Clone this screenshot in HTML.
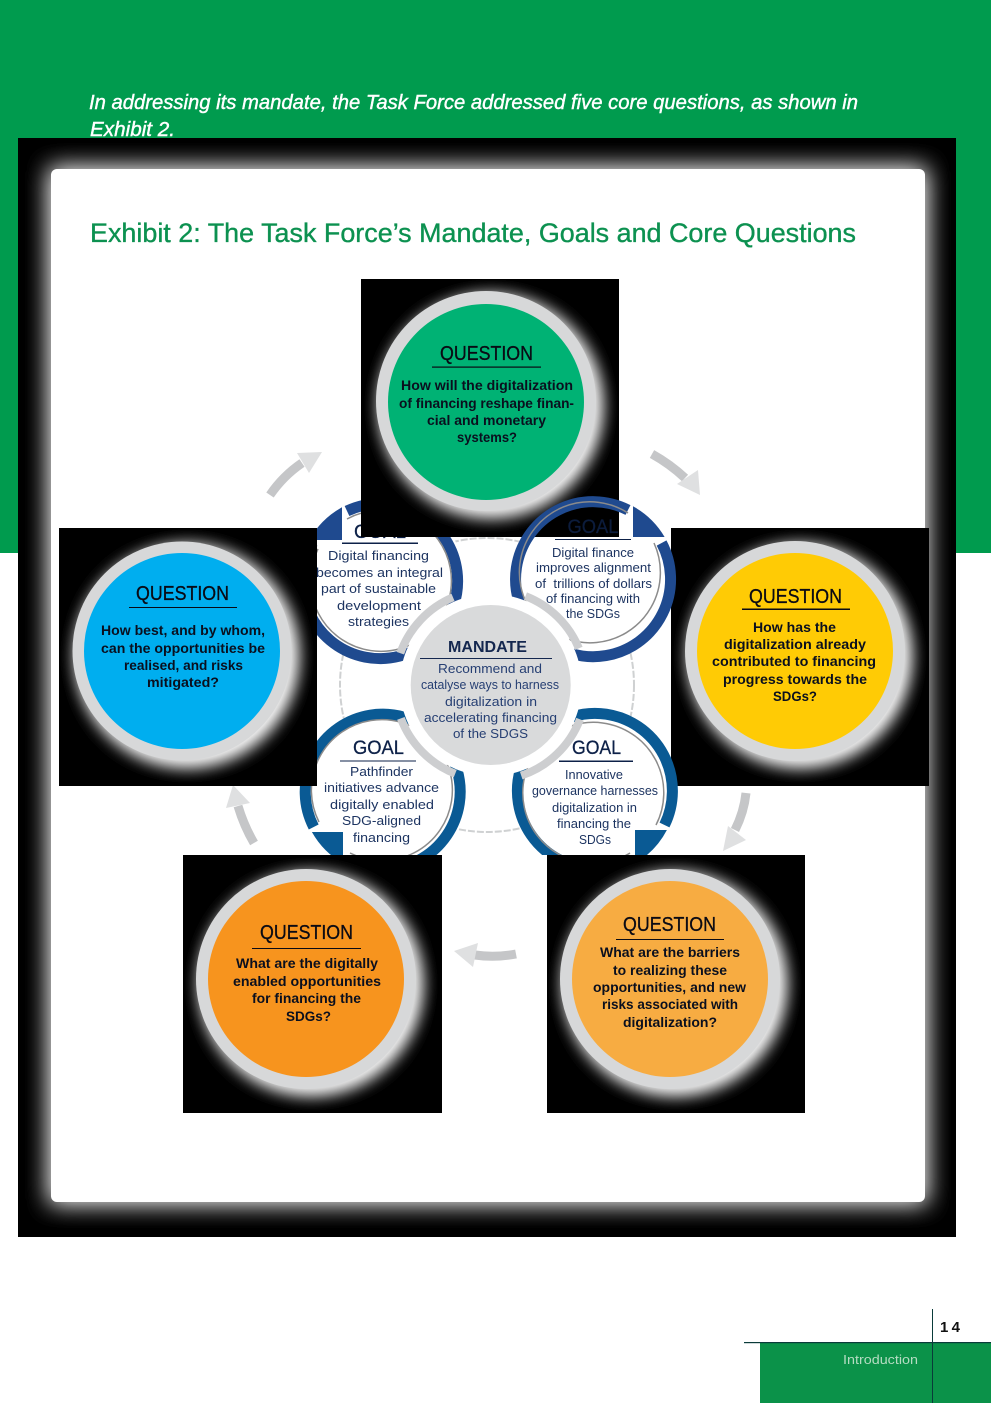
<!DOCTYPE html>
<html><head><meta charset="utf-8"><style>
html,body{margin:0;padding:0;background:#fff;width:991px;height:1403px;overflow:hidden}
svg{display:block}
text{font-family:"Liberation Sans",sans-serif;text-anchor:middle}
.q{font-size:20px;fill:#0a0a14;stroke:#0a0a14;stroke-width:.3px}
.b{font-size:14px;font-weight:700;fill:#0a0f1e}
.g{font-size:13px;fill:#1d3461}
.h{font-size:19.5px;fill:#0d2148;stroke:#0d2148;stroke-width:.3px}
.m{font-size:13px;fill:#263f73}
</style></head><body>
<svg width="991" height="1403" viewBox="0 0 991 1403" xmlns="http://www.w3.org/2000/svg">
<defs>
<filter id="bc" x="-10%" y="-10%" width="120%" height="120%" color-interpolation-filters="sRGB"><feGaussianBlur stdDeviation="11"/><feComponentTransfer><feFuncA type="gamma" exponent=".75"/></feComponentTransfer></filter>
<filter id="bq" x="-30%" y="-30%" width="160%" height="160%" color-interpolation-filters="sRGB"><feGaussianBlur stdDeviation="7"/><feComponentTransfer><feFuncA type="gamma" exponent=".7"/></feComponentTransfer></filter>
<clipPath id="c1"><rect x="361" y="279" width="258" height="258"/></clipPath>
<clipPath id="c2"><rect x="59" y="528" width="258" height="258"/></clipPath>
<clipPath id="c3"><rect x="671" y="528" width="258" height="258"/></clipPath>
<clipPath id="c4"><rect x="183" y="855" width="259" height="258"/></clipPath>
<clipPath id="c5"><rect x="547" y="855" width="258" height="258"/></clipPath>
<clipPath id="lr"><rect x="490" y="690" width="200" height="165"/></clipPath>
</defs>

<rect x="0" y="0" width="991" height="553" fill="#009b4e"/>
<text x="473.500" y="109" font-size="20" font-style="italic" fill="#fff" stroke="#fff" stroke-width=".4" textLength="769" lengthAdjust="spacingAndGlyphs">In addressing its mandate, the Task Force addressed five core questions, as shown in</text>
<text x="132.500" y="136" font-size="20" font-style="italic" fill="#fff" stroke="#fff" stroke-width=".4" textLength="85" lengthAdjust="spacingAndGlyphs">Exhibit 2.</text>

<rect x="18" y="138" width="938" height="1099" fill="#000"/>
<rect x="51" y="169" width="874" height="1033" rx="6" fill="#fff" filter="url(#bc)"/>
<rect x="51" y="169" width="874" height="1033" rx="6" fill="#fff"/>

<text x="473" y="242" font-size="26.500" fill="#0c9150" stroke="#0c9150" stroke-width=".35" textLength="766" lengthAdjust="spacingAndGlyphs">Exhibit 2: The Task Force’s Mandate, Goals and Core Questions</text>

<!-- arrows -->
<g fill="none" stroke="#c5c6c8" stroke-width="9">
<path d="M270 495Q283 476 302 463"/>
<path d="M652 454Q670 464 685 478"/>
<path d="M746 793Q744 812 735 830"/>
<path d="M516 954Q495 958 475 955"/>
<path d="M254 843Q244 826 238 806"/>
</g>
<g fill="#dfe0e1">
<polygon points="297,453 322,452 309,473"/>
<polygon points="677,484 698,470 700,495"/>
<polygon points="728,826 746,840 723,851"/>
<polygon points="478,943 473,967 454,951"/>
<polygon points="233,785 226,808 250,803"/>
</g>

<!-- dashed orbit, hidden behind goal discs -->
<circle cx="487" cy="685" r="147" fill="none" stroke="#cfd1d2" stroke-width="2" stroke-dasharray="7 2"/>
<circle cx="382" cy="580" r="83" fill="#fff"/>
<circle cx="593" cy="579" r="83" fill="#fff"/>
<circle cx="383.500" cy="791" r="83" fill="#fff"/>
<circle cx="594.500" cy="791" r="83" fill="#fff"/>

<!-- left goals -->
<g fill="none">
<path d="M347 511A77.500 77.500 0 1 1 312.600 543" stroke="#1f4a8f" stroke-width="11"/>
<path d="M347 519A70.500 70.500 0 1 1 318 549" stroke="#8b8b8b" stroke-width="1.500"/>
<path d="M313.700 827A77.500 77.500 0 1 1 348 861" stroke="#0a5a94" stroke-width="11"/>
<path d="M319 822A70.500 70.500 0 1 1 350 853" stroke="#8b8b8b" stroke-width="1.500"/>
</g>
<path d="M342 507.300A83 83 0 0 0 309.300 540L342 540Z" fill="#1f4a8f"/>
<path d="M311.900 832A83 83 0 0 0 343 863.400L343 832Z" fill="#0a5a94"/>

<text class="h" x="380" y="538" textLength="52" lengthAdjust="spacingAndGlyphs">GOAL</text>
<rect x="342" y="542.500" width="76" height="1.500" fill="#0d2148"/>
<text class="g" x="378.500" y="560" textLength="101" lengthAdjust="spacingAndGlyphs">Digital financing</text>
<text class="g" x="379.500" y="577" textLength="127" lengthAdjust="spacingAndGlyphs">becomes an integral</text>
<text class="g" x="378.500" y="593" textLength="115" lengthAdjust="spacingAndGlyphs">part of sustainable</text>
<text class="g" x="379" y="610" textLength="84" lengthAdjust="spacingAndGlyphs">development</text>
<text class="g" x="378.500" y="626" textLength="61" lengthAdjust="spacingAndGlyphs">strategies</text>

<text class="h" x="378.500" y="754" textLength="51" lengthAdjust="spacingAndGlyphs">GOAL</text>
<rect x="340" y="760.500" width="76" height="1" fill="#0d2148"/>
<text class="g" x="381.500" y="776" textLength="63" lengthAdjust="spacingAndGlyphs">Pathfinder</text>
<text class="g" x="381.500" y="792" textLength="115" lengthAdjust="spacingAndGlyphs">initiatives advance</text>
<text class="g" x="382" y="809" textLength="104" lengthAdjust="spacingAndGlyphs">digitally enabled</text>
<text class="g" x="381.500" y="825" textLength="79" lengthAdjust="spacingAndGlyphs">SDG-aligned</text>
<text class="g" x="381.500" y="842" textLength="57" lengthAdjust="spacingAndGlyphs">financing</text>

<!-- black question squares with glow -->
<rect x="361" y="279" width="258" height="258" fill="#000"/>
<g clip-path="url(#c1)"><circle cx="491" cy="406" r="110" fill="#fff" filter="url(#bq)"/></g>
<circle cx="486" cy="401" r="110" fill="#d7d8d9"/><circle cx="486" cy="402" r="98" fill="#00b274"/>

<rect x="59" y="528" width="258" height="258" fill="#000"/>
<g clip-path="url(#c2)"><circle cx="187" cy="656" r="110" fill="#fff" filter="url(#bq)"/></g>
<circle cx="182" cy="651" r="109.500" fill="#d7d8d9"/><circle cx="182" cy="651" r="98" fill="#00aeef"/>

<rect x="671" y="528" width="258" height="258" fill="#000"/>
<g clip-path="url(#c3)"><circle cx="800" cy="656" r="110" fill="#fff" filter="url(#bq)"/></g>
<circle cx="795" cy="651" r="110" fill="#d7d8d9"/><circle cx="795" cy="651" r="98" fill="#ffcb05"/>

<rect x="183" y="855" width="259" height="258" fill="#000"/>
<g clip-path="url(#c4)"><circle cx="311" cy="984" r="110" fill="#fff" filter="url(#bq)"/></g>
<circle cx="306" cy="979" r="110" fill="#d7d8d9"/><circle cx="306" cy="979" r="98" fill="#f7941e"/>

<rect x="547" y="855" width="258" height="258" fill="#000"/>
<g clip-path="url(#c5)"><circle cx="675" cy="984" r="110" fill="#fff" filter="url(#bq)"/></g>
<circle cx="670" cy="979" r="110" fill="#d7d8d9"/><circle cx="670" cy="979" r="98" fill="#f7ac42"/>

<!-- question text -->
<text class="q" x="486.500" y="360" textLength="93" lengthAdjust="spacingAndGlyphs">QUESTION</text>
<rect x="432" y="366.500" width="109" height="1.200" fill="#0a0a14"/>
<text class="b" x="487" y="390" textLength="172" lengthAdjust="spacingAndGlyphs">How will the digitalization</text>
<text class="b" x="486.500" y="408" textLength="175" lengthAdjust="spacingAndGlyphs">of financing reshape finan-</text>
<text class="b" x="486.500" y="425" textLength="119" lengthAdjust="spacingAndGlyphs">cial and monetary</text>
<text class="b" x="487" y="442" textLength="60" lengthAdjust="spacingAndGlyphs">systems?</text>

<text class="q" x="795.500" y="603" textLength="93" lengthAdjust="spacingAndGlyphs">QUESTION</text>
<rect x="742" y="608.500" width="108" height="1.500" fill="#0a0a14"/>
<text class="b" x="794.500" y="632" textLength="83" lengthAdjust="spacingAndGlyphs">How has the</text>
<text class="b" x="795" y="649" textLength="142" lengthAdjust="spacingAndGlyphs">digitalization already</text>
<text class="b" x="794" y="666" textLength="164" lengthAdjust="spacingAndGlyphs">contributed to financing</text>
<text class="b" x="795" y="684" textLength="144" lengthAdjust="spacingAndGlyphs">progress towards the</text>
<text class="b" x="795" y="701" textLength="44" lengthAdjust="spacingAndGlyphs">SDGs?</text>

<text class="q" x="182.500" y="600" textLength="93" lengthAdjust="spacingAndGlyphs">QUESTION</text>
<rect x="129" y="607" width="108" height="1" fill="#0a0a14"/>
<text class="b" x="183" y="635" textLength="164" lengthAdjust="spacingAndGlyphs">How best, and by whom,</text>
<text class="b" x="183" y="653" textLength="164" lengthAdjust="spacingAndGlyphs">can the opportunities be</text>
<text class="b" x="183.500" y="670" textLength="119" lengthAdjust="spacingAndGlyphs">realised, and risks</text>
<text class="b" x="183" y="687" textLength="72" lengthAdjust="spacingAndGlyphs">mitigated?</text>

<text class="q" x="306.500" y="939" textLength="93" lengthAdjust="spacingAndGlyphs">QUESTION</text>
<rect x="252" y="948" width="109" height="1" fill="#0a0a14"/>
<text class="b" x="307" y="968" textLength="142" lengthAdjust="spacingAndGlyphs">What are the digitally</text>
<text class="b" x="307" y="986" textLength="148" lengthAdjust="spacingAndGlyphs">enabled opportunities</text>
<text class="b" x="306.500" y="1003" textLength="109" lengthAdjust="spacingAndGlyphs">for financing the</text>
<text class="b" x="308.500" y="1021" textLength="45" lengthAdjust="spacingAndGlyphs">SDGs?</text>

<text class="q" x="669.500" y="931" textLength="93" lengthAdjust="spacingAndGlyphs">QUESTION</text>
<rect x="616" y="939" width="108" height="1" fill="#0a0a14"/>
<text class="b" x="670" y="957" textLength="140" lengthAdjust="spacingAndGlyphs">What are the barriers</text>
<text class="b" x="670" y="975" textLength="114" lengthAdjust="spacingAndGlyphs">to realizing these</text>
<text class="b" x="669.500" y="992" textLength="153" lengthAdjust="spacingAndGlyphs">opportunities, and new</text>
<text class="b" x="670" y="1009" textLength="136" lengthAdjust="spacingAndGlyphs">risks associated with</text>
<text class="b" x="670" y="1027" textLength="94" lengthAdjust="spacingAndGlyphs">digitalization?</text>

<!-- right goals (over the black squares, transparent inside) -->
<g fill="none">
<path d="M661.600 543A77.500 77.500 0 1 1 628 510" stroke="#1f4a8f" stroke-width="11"/>
<path d="M654 543A70.500 70.500 0 1 1 628 513" stroke="#8b8b8b" stroke-width="1.500"/>
</g>
<path d="M633 506.300A83 83 0 0 1 664.600 537L633 537Z" fill="#1f4a8f"/>
<g clip-path="url(#lr)">
<g fill="none">
<path d="M630 860A77.500 77.500 0 1 1 664.500 825" stroke="#0a5a94" stroke-width="11"/>
<path d="M630 853A70.500 70.500 0 1 1 656 825" stroke="#8b8b8b" stroke-width="1.500"/>
</g>
<path d="M635 830L666.900 830A83 83 0 0 1 635 863.400Z" fill="#0a5a94"/>
</g>

<text class="h" x="593" y="533" textLength="51" lengthAdjust="spacingAndGlyphs" style="fill:#0c1c3c;stroke:#0c1c3c">GOAL</text>
<rect x="555" y="539" width="76" height="1" fill="#0d2148"/>
<text class="g" x="593" y="557" textLength="82" lengthAdjust="spacingAndGlyphs">Digital finance</text>
<text class="g" x="593.500" y="572" textLength="115" lengthAdjust="spacingAndGlyphs">improves alignment</text>
<text class="g" x="593.500" y="588" textLength="117" lengthAdjust="spacingAndGlyphs" xml:space="preserve">of  trillions of dollars</text>
<text class="g" x="593" y="603" textLength="94" lengthAdjust="spacingAndGlyphs">of financing with</text>
<text class="g" x="593" y="618" textLength="54" lengthAdjust="spacingAndGlyphs">the SDGs</text>

<text class="h" x="596.500" y="754" textLength="49" lengthAdjust="spacingAndGlyphs">GOAL</text>
<rect x="559" y="760.500" width="74" height="1.500" fill="#0d2148"/>
<text class="g" x="594" y="779" textLength="58" lengthAdjust="spacingAndGlyphs">Innovative</text>
<text class="g" x="595" y="795" textLength="126" lengthAdjust="spacingAndGlyphs">governance harnesses</text>
<text class="g" x="594.500" y="812" textLength="85" lengthAdjust="spacingAndGlyphs">digitalization in</text>
<text class="g" x="594" y="828" textLength="74" lengthAdjust="spacingAndGlyphs">financing the</text>
<text class="g" x="595" y="844" textLength="32" lengthAdjust="spacingAndGlyphs">SDGs</text>

<!-- mandate: white halo, grey arcs, disc -->
<circle cx="490.700" cy="685" r="91" fill="#fff"/>
<g fill="none" stroke="#cdced0" stroke-width="8">
<path d="M400.300 653.200A95.500 95.500 0 0 1 453 597.300"/>
<path d="M525.500 596.100A95.500 95.500 0 0 1 578.900 648.300"/>
<path d="M580 719.300A95.500 95.500 0 0 1 521.200 775.600"/>
<path d="M455.200 773.700A95.500 95.500 0 0 1 400.900 718.400"/>
</g>
<circle cx="490.700" cy="685" r="80" fill="#d9dadb"/>
<text x="487.500" y="652" font-size="15.500" font-weight="700" fill="#14274f" textLength="79" lengthAdjust="spacingAndGlyphs">MANDATE</text>
<rect x="420" y="658" width="132" height="1" fill="#14274f"/>
<text class="m" x="490" y="673" textLength="104" lengthAdjust="spacingAndGlyphs">Recommend and</text>
<text class="m" x="490" y="689" textLength="138" lengthAdjust="spacingAndGlyphs">catalyse ways to harness</text>
<text class="m" x="491" y="706" textLength="92" lengthAdjust="spacingAndGlyphs">digitalization in</text>
<text class="m" x="490.500" y="722" textLength="133" lengthAdjust="spacingAndGlyphs">accelerating financing</text>
<text class="m" x="490.500" y="738" textLength="75" lengthAdjust="spacingAndGlyphs">of the SDGS</text>

<!-- footer -->
<rect x="760" y="1343" width="231" height="60" fill="#0b9249"/>
<rect x="744" y="1342" width="247" height="1.200" fill="#0a3b3a"/>
<rect x="932" y="1309" width="1" height="94" fill="#0a3b3a"/>
<text x="950" y="1332" font-size="15" font-weight="700" fill="#111" textLength="20">14</text>
<text x="880.500" y="1364" font-size="13" fill="#b5dcc2" textLength="75" lengthAdjust="spacingAndGlyphs">Introduction</text>
</svg>
</body></html>
